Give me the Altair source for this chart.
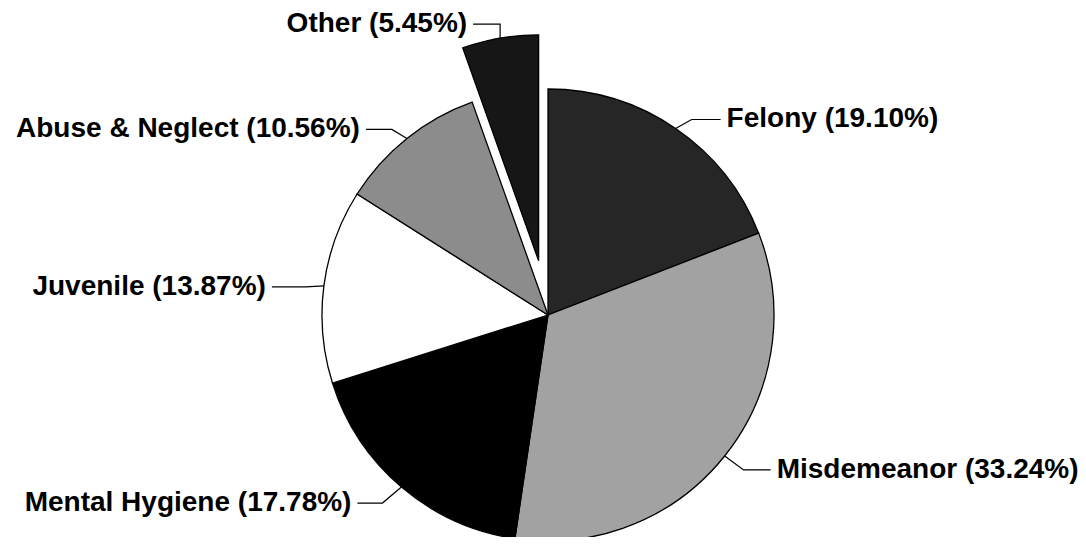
import math
import altair as alt
import pandas as pd

# ---------------- data ----------------
categories = ["Felony", "Misdemeanor", "Mental Hygiene", "Juvenile", "Abuse & Neglect", "Other"]
percentages = [19.10, 33.24, 17.78, 13.87, 10.56, 5.45]

# ---------------- style / layout ----------------
colors = ["#262626", "#a2a2a2", "#000000", "#ffffff", "#8c8c8c", "#161616"]
MARGIN = 8
CX, CY, R = 548 - MARGIN, 315 - MARGIN, 226
EXPLODE = {"Other": 55}
# elbow offset (dx, dy) from the slice edge, then horizontal run to the label
label_layout = {
    "Felony": (16, -9, 29),
    "Misdemeanor": (19, 14, 27),
    "Mental Hygiene": (-19, 16, -25),
    "Juvenile": (-18, 1, -34),
    "Abuse & Neglect": (-15, -9, -26),
    "Other": (0, -14, -27),
}
TEXT_GAP = 6
FONT = "Liberation Sans"

# ---------------- derived tables ----------------
total = sum(percentages)
rows, line_rows = [], []
cum = 0.0
for i, (cat, pct) in enumerate(zip(categories, percentages)):
    mid = (cum + pct / 2) / total * 2 * math.pi
    cum += pct
    ex = EXPLODE.get(cat, 0)
    ox, oy = ex * math.sin(mid), -ex * math.cos(mid)
    edge_x = CX + ox + R * math.sin(mid)
    edge_y = CY + oy - R * math.cos(mid)
    dx, dy, run = label_layout[cat]
    elb_x, elb_y = edge_x + dx, edge_y + dy
    end_x = elb_x + run
    side = "left" if run > 0 else "right"
    text_x = end_x + (TEXT_GAP if run > 0 else -TEXT_GAP)
    rows.append(dict(idx=i, category=cat, pct=pct, label=f"{cat} ({pct:.2f}%)",
                     tx=text_x, ty=elb_y, side=side,
                     cx=CX + ox, cy=CY + oy, exploded=ex > 0))
    for seq, (px, py) in enumerate([(edge_x, edge_y), (elb_x, elb_y), (end_x, elb_y)]):
        line_rows.append(dict(category=cat, seq=seq, px=px, py=py))

df = pd.DataFrame(rows)
lines_df = pd.DataFrame(line_rows)

other_row = df[df.exploded].iloc[0]

theta = alt.Theta("pct:Q", stack=True)
color = alt.Color("category:N", scale=alt.Scale(domain=categories, range=colors), legend=None)
order = alt.Order("idx:Q", sort="ascending")

base = alt.Chart(df)

pie_main = base.mark_arc(radius=R, stroke="black", strokeWidth=1.3).encode(
    theta=theta, color=color, order=order,
    x=alt.value(CX), y=alt.value(CY),
    opacity=alt.when(alt.datum.exploded).then(alt.value(0)).otherwise(alt.value(1)),
)

pie_exploded = base.mark_arc(radius=R, stroke="black", strokeWidth=1.3).encode(
    theta=theta, color=color, order=order,
    x=alt.value(float(other_row.cx)), y=alt.value(float(other_row.cy)),
    opacity=alt.when(alt.datum.exploded).then(alt.value(1)).otherwise(alt.value(0)),
)

leaders = alt.Chart(lines_df).mark_line(color="black", strokeWidth=1.2).encode(
    x=alt.X("px:Q", scale=None, axis=None),
    y=alt.Y("py:Q", scale=None, axis=None),
    detail="category:N",
    order=alt.Order("seq:Q"),
)

text_left = base.transform_filter(alt.datum.side == "left").mark_text(
    align="left", baseline="middle", font=FONT, fontSize=28, fontWeight="bold", color="black"
).encode(x=alt.X("tx:Q", scale=None, axis=None), y=alt.Y("ty:Q", scale=None, axis=None), text="label:N")

text_right = base.transform_filter(alt.datum.side == "right").mark_text(
    align="right", baseline="middle", font=FONT, fontSize=28, fontWeight="bold", color="black"
).encode(x=alt.X("tx:Q", scale=None, axis=None), y=alt.Y("ty:Q", scale=None, axis=None), text="label:N")

chart = alt.layer(pie_main, pie_exploded, leaders, text_left, text_right).properties(
    width=1070, height=529, padding=0, autosize="none", background="white"
).configure_view(stroke=None)

chart.save("out.html", embed_options={"renderer": "svg", "actions": False})
